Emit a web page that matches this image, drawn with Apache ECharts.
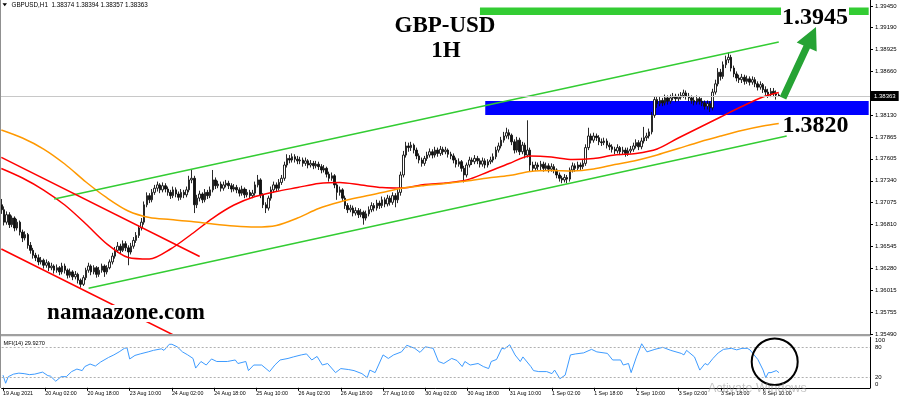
<!DOCTYPE html>
<html><head><meta charset="utf-8">
<script src="https://cdn.jsdelivr.net/npm/echarts@6/dist/echarts.min.js"></script>
<style>html,body{margin:0;padding:0;background:#fff;}#c{width:900px;height:400px;}</style>
</head><body><div id="c"></div>
<script>
// ---------------- DATA ----------------
const symbolName = 'GBPUSD,H1';
const firstOpen = 1.3705;
const closes = [
1.3699,1.3684,1.3693,1.3681,1.3689,1.3677,1.3684,1.3672,1.3665,1.3669,
1.3656,1.3650,1.3644,1.3641,1.3636,1.3638,1.3632,1.3635,1.3629,1.3631,
1.3626,1.3629,1.3624,1.3631,1.3626,1.3620,1.3624,1.3618,1.3621,1.3614,
1.3609,1.3617,1.3626,1.3631,1.3624,1.3629,1.3621,1.3626,1.3631,1.3624,
1.3629,1.3636,1.3643,1.3650,1.3655,1.3650,1.3658,1.3653,1.3648,1.3655,
1.3662,1.3668,1.3677,1.3684,1.3705,1.3716,1.3711,1.3720,1.3725,1.3729,
1.3723,1.3728,1.3724,1.3720,1.3716,1.3723,1.3718,1.3714,1.3720,1.3717,
1.3723,1.3735,1.3737,1.3705,1.3713,1.3718,1.3711,1.3720,1.3716,1.3723,
1.3735,1.3728,1.3730,1.3725,1.3729,1.3731,1.3728,1.3724,1.3726,1.3723,
1.3719,1.3724,1.3717,1.3720,1.3716,1.3719,1.3729,1.3735,1.3717,1.3705,
1.3701,1.3713,1.3723,1.3729,1.3725,1.3732,1.3737,1.3753,1.3761,1.3759,
1.3763,1.3760,1.3758,1.3759,1.3755,1.3758,1.3753,1.3755,1.3752,1.3754,
1.3751,1.3747,1.3749,1.3742,1.3737,1.3740,1.3729,1.3720,1.3723,1.3713,
1.3704,1.3699,1.3701,1.3695,1.3698,1.3693,1.3696,1.3689,1.3694,1.3699,
1.3704,1.3701,1.3707,1.3704,1.3711,1.3706,1.3713,1.3708,1.3716,1.3711,
1.3720,1.3741,1.3765,1.3776,1.3774,1.3777,1.3771,1.3764,1.3759,1.3755,
1.3761,1.3765,1.3769,1.3765,1.3771,1.3767,1.3772,1.3769,1.3771,1.3766,
1.3764,1.3759,1.3754,1.3757,1.3749,1.3741,1.3753,1.3759,1.3757,1.3761,
1.3758,1.3754,1.3758,1.3753,1.3757,1.3759,1.3763,1.3771,1.3776,1.3783,
1.3788,1.3792,1.3789,1.3781,1.3771,1.3783,1.3769,1.3777,1.3765,1.3771,
1.3753,1.3749,1.3753,1.3751,1.3754,1.3749,1.3752,1.3748,1.3751,1.3747,
1.3741,1.3737,1.3735,1.3738,1.3736,1.3747,1.3752,1.3749,1.3753,1.3751,
1.3755,1.3774,1.3788,1.3783,1.3788,1.3786,1.3781,1.3780,1.3782,1.3777,
1.3775,1.3772,1.3770,1.3774,1.3769,1.3771,1.3767,1.3770,1.3772,1.3776,
1.3780,1.3775,1.3782,1.3786,1.3788,1.3793,1.3813,1.3832,1.3827,1.3831,
1.3828,1.3834,1.3830,1.3834,1.3836,1.3833,1.3835,1.3837,1.3840,1.3836,
1.3834,1.3831,1.3829,1.3833,1.3830,1.3828,1.3824,1.3827,1.3822,1.3841,
1.3851,1.3865,1.3860,1.3874,1.3880,1.3883,1.3870,1.3863,1.3858,1.3856,
1.3859,1.3854,1.3857,1.3853,1.3856,1.3851,1.3847,1.3850,1.3844,1.3841,
1.3838,1.3842,1.3839,1.38374,1.38363];
const highs = [
1.3712,1.3703,1.3697,1.3696,1.3692,1.3691,1.3688,1.3686,1.3675,1.3673,
1.3671,1.3660,1.3653,1.3647,1.3645,1.3642,1.3640,1.3639,1.3637,1.3635,
1.3633,1.3633,1.3631,1.3635,1.3634,1.3628,1.3628,1.3626,1.3625,1.3623,
1.3616,1.3620,1.3629,1.3635,1.3633,1.3632,1.3631,1.3630,1.3634,1.3633,
1.3632,1.3639,1.3647,1.3654,1.3660,1.3658,1.3662,1.3661,1.3656,1.3659,
1.3666,1.3672,1.3680,1.3689,1.3709,1.3720,1.3719,1.3724,1.3729,1.3733,
1.3731,1.3732,1.3731,1.3727,1.3723,1.3727,1.3726,1.3721,1.3724,1.3723,
1.3727,1.3740,1.3747,1.3740,1.3717,1.3722,1.3720,1.3724,1.3723,1.3727,
1.3747,1.3738,1.3734,1.3733,1.3733,1.3735,1.3734,1.3731,1.3730,1.3729,
1.3726,1.3728,1.3726,1.3724,1.3723,1.3723,1.3733,1.3741,1.3737,1.3719,
1.3708,1.3716,1.3727,1.3733,1.3732,1.3736,1.3741,1.3757,1.3766,1.3765,
1.3767,1.3766,1.3764,1.3763,1.3762,1.3762,1.3760,1.3759,1.3758,1.3758,
1.3757,1.3754,1.3753,1.3751,1.3745,1.3744,1.3742,1.3731,1.3727,1.3725,
1.3716,1.3707,1.3705,1.3704,1.3702,1.3701,1.3700,1.3698,1.3698,1.3703,
1.3708,1.3707,1.3711,1.3710,1.3715,1.3714,1.3717,1.3716,1.3720,1.3719,
1.3724,1.3745,1.3770,1.3781,1.3780,1.3781,1.3779,1.3774,1.3767,1.3762,
1.3764,1.3769,1.3773,1.3772,1.3775,1.3774,1.3776,1.3775,1.3775,1.3773,
1.3769,1.3767,1.3762,1.3761,1.3759,1.3752,1.3756,1.3763,1.3762,1.3765,
1.3764,1.3761,1.3762,1.3761,1.3760,1.3763,1.3767,1.3775,1.3780,1.3787,
1.3793,1.3798,1.3796,1.3791,1.3784,1.3787,1.3786,1.3781,1.3780,1.3807,
1.3774,1.3757,1.3757,1.3756,1.3758,1.3757,1.3756,1.3755,1.3755,1.3754,
1.3749,1.3744,1.3740,1.3742,1.3741,1.3750,1.3756,1.3755,1.3757,1.3756,
1.3759,1.3778,1.3798,1.3791,1.3792,1.3791,1.3789,1.3785,1.3786,1.3785,
1.3780,1.3778,1.3775,1.3778,1.3776,1.3775,1.3774,1.3774,1.3776,1.3780,
1.3784,1.3783,1.3786,1.3799,1.3792,1.3797,1.3817,1.3836,1.3835,1.3835,
1.3834,1.3838,1.3837,1.3838,1.3840,1.3839,1.3839,1.3841,1.3844,1.3843,
1.3840,1.3837,1.3835,1.3837,1.3836,1.3834,1.3831,1.3831,1.3830,1.3845,
1.3856,1.3870,1.3869,1.3878,1.3885,1.3889,1.3886,1.3873,1.3866,1.3862,
1.3863,1.3862,1.3861,1.3860,1.3860,1.3859,1.3854,1.3854,1.3852,1.3848,
1.3845,1.3846,1.3846,1.3843,1.38394];
const lows = [
1.3694,1.3680,1.3681,1.3677,1.3678,1.3673,1.3674,1.3668,1.3660,1.3662,
1.3652,1.3646,1.3640,1.3637,1.3632,1.3633,1.3628,1.3629,1.3625,1.3626,
1.3622,1.3623,1.3620,1.3621,1.3622,1.3616,1.3617,1.3614,1.3615,1.3610,
1.3605,1.3607,1.3614,1.3623,1.3620,1.3621,1.3617,1.3618,1.3623,1.3618,
1.3621,1.3627,1.3633,1.3640,1.3647,1.3646,1.3648,1.3649,1.3632,1.3645,
1.3652,1.3659,1.3665,1.3674,1.3681,1.3702,1.3707,1.3708,1.3717,1.3721,
1.3719,1.3720,1.3720,1.3716,1.3712,1.3713,1.3714,1.3710,1.3711,1.3713,
1.3714,1.3720,1.3731,1.3695,1.3701,1.3709,1.3707,1.3708,1.3712,1.3713,
1.3720,1.3724,1.3725,1.3721,1.3722,1.3726,1.3724,1.3720,1.3721,1.3719,
1.3715,1.3716,1.3713,1.3714,1.3712,1.3713,1.3716,1.3726,1.3713,1.3701,
1.3695,1.3698,1.3710,1.3720,1.3721,1.3722,1.3729,1.3734,1.3750,1.3755,
1.3756,1.3756,1.3754,1.3754,1.3751,1.3752,1.3749,1.3750,1.3748,1.3749,
1.3747,1.3743,1.3744,1.3738,1.3733,1.3734,1.3725,1.3711,1.3716,1.3709,
1.3700,1.3695,1.3696,1.3691,1.3692,1.3689,1.3690,1.3681,1.3686,1.3691,
1.3696,1.3697,1.3698,1.3700,1.3701,1.3702,1.3703,1.3704,1.3705,1.3702,
1.3707,1.3716,1.3738,1.3762,1.3769,1.3770,1.3767,1.3760,1.3755,1.3751,
1.3752,1.3758,1.3762,1.3761,1.3762,1.3763,1.3764,1.3765,1.3766,1.3762,
1.3760,1.3755,1.3750,1.3751,1.3745,1.3732,1.3738,1.3750,1.3753,1.3754,
1.3754,1.3750,1.3751,1.3749,1.3750,1.3754,1.3756,1.3760,1.3768,1.3773,
1.3780,1.3785,1.3784,1.3777,1.3767,1.3768,1.3765,1.3766,1.3761,1.3762,
1.3745,1.3745,1.3746,1.3747,1.3747,1.3745,1.3746,1.3744,1.3745,1.3743,
1.3737,1.3733,1.3731,1.3732,1.3731,1.3733,1.3744,1.3745,1.3746,1.3747,
1.3748,1.3752,1.3771,1.3779,1.3780,1.3782,1.3777,1.3776,1.3777,1.3773,
1.3771,1.3768,1.3766,1.3767,1.3765,1.3766,1.3763,1.3764,1.3767,1.3769,
1.3773,1.3771,1.3772,1.3779,1.3782,1.3785,1.3790,1.3810,1.3822,1.3824,
1.3824,1.3825,1.3826,1.3827,1.3831,1.3829,1.3830,1.3832,1.3834,1.3832,
1.3830,1.3827,1.3825,1.3826,1.3826,1.3824,1.3820,1.3820,1.3817,1.3819,
1.3838,1.3848,1.3855,1.3857,1.3870,1.3876,1.3866,1.3859,1.3854,1.3852,
1.3852,1.3850,1.3851,1.3849,1.3850,1.3847,1.3843,1.3844,1.3840,1.3837,
1.3834,1.3835,1.3835,1.3832,1.38357];

// moving averages, read at these bar numbers
const maBars = [0,8,16,24,32,40,48,56,64,72,80,88,96,104,112,120,128,136,144,152,160,168,176,184,192,200,208,216,224,232,240,248,256,264,272,280,288,294];
const maRed = [1.37488,1.37373,1.37228,1.37047,1.36818,1.36576,1.36413,1.36395,1.36516,1.36697,1.36890,1.37047,1.37150,1.37210,1.37258,1.37307,1.37319,1.37289,1.37258,1.37252,1.37295,1.37313,1.37349,1.37446,1.37548,1.37639,1.37627,1.37596,1.37609,1.37651,1.37669,1.37723,1.37856,1.37983,1.38110,1.38236,1.38351,1.38405];
const maOrange = [1.37953,1.37856,1.37723,1.37542,1.37325,1.37132,1.36975,1.36896,1.36872,1.36848,1.36818,1.36794,1.36782,1.36800,1.36890,1.37005,1.37084,1.37144,1.37198,1.37252,1.37283,1.37307,1.37337,1.37373,1.37403,1.37452,1.37464,1.37458,1.37482,1.37536,1.37584,1.37651,1.37729,1.37808,1.37880,1.37947,1.38001,1.38031];

// MFI(14), read at these bar numbers
const mfiBars = [0,1,2,4,6,8,10,12,15,17,18,20,22,24,26,28,30,31,33,35,37,40,42,44,46,47,48,50,52,55,57,60,61,63,64,66,68,70,72,73,75,77,79,81,85,88,89,92,93,95,98,101,103,105,108,110,113,115,117,119,121,123,126,128,131,133,136,138,139,141,144,146,148,151,153,156,158,160,163,165,167,170,172,174,175,177,180,182,184,185,187,189,190,192,194,196,197,200,201,203,206,208,209,211,213,215,217,220,223,225,229,231,234,235,237,238,240,242,244,247,250,253,257,258,259,262,264,266,267,269,271,273,276,278,280,282,283,286,288,289,290,291,293,294];
const mfiValues = [25,9,22,27,29,28,26,27,31,24,23,13,22,22,32,37,34,42,47,43,51,60,65,71,78,79,57,64,67,71,74,77,74,86,86,81,71,65,58,39,52,45,57,52,52,55,48,52,34,45,45,32,45,55,58,61,65,67,55,62,45,48,30,38,36,34,28,20,35,30,65,58,65,71,84,78,70,81,78,52,48,58,54,42,52,45,48,42,38,52,56,78,77,85,65,52,61,42,34,32,32,28,35,18,25,65,67,69,76,71,68,55,55,45,48,30,61,87,71,76,80,74,68,65,74,61,35,48,45,58,69,76,78,75,78,78,75,56,35,20,30,30,34,29.927];
const mfiLevels = [80, 20];
const mfiTicks = [0, 20, 80, 100];

// drawn objects, in (bar, price)
const channelUpper = [[20, 1.37120], [294, 1.39015]];
const channelLower = [[33, 1.36043], [297, 1.37880]];
const downLineA = [[0, 1.37622], [75, 1.36426]];
const downLineB = [[0, 1.36516], [66, 1.35463]];
const targetZone = {fromBar: 181, top: 1.39431, bottom: 1.39341};
const supportZone = {fromBar: 183, top: 1.38303, bottom: 1.38134};
const targetText = '1.3945';
const supportText = '1.3820';

// axes
const priceMin = 1.35478, priceMax = 1.39522;
const priceTicks = [1.35490,1.35755,1.36015,1.36280,1.36545,1.36810,1.37075,1.37340,1.37605,1.37865,1.38130,1.38395,1.38660,1.38925,1.39190,1.39450];
const timeLabels = ['19 Aug 2021','20 Aug 02:00','20 Aug 18:00','23 Aug 10:00','24 Aug 02:00','24 Aug 18:00','25 Aug 10:00','26 Aug 02:00','26 Aug 18:00','27 Aug 10:00','30 Aug 02:00','30 Aug 18:00','31 Aug 10:00','1 Sep 02:00','1 Sep 18:00','2 Sep 10:00','3 Sep 02:00','3 Sep 18:00','6 Sep 10:00'];
const labelEvery = 16;
const shiftSlots = 34;

// ---------------- BUILD ----------------
const totalSlots = closes.length + shiftSlots;
const categories = [];
{
  let t = Date.UTC(2021, 7, 19, 10);
  while (categories.length < totalSlots) {
    const d = new Date(t);
    const wd = d.getUTCDay();
    if (wd !== 0 && wd !== 6) {
      categories.push(d.toISOString().slice(0, 13) + ':00');
    }
    t += 3600000;
  }
}
const candles = closes.map((c, i) => [i === 0 ? firstOpen : closes[i - 1], c, lows[i], highs[i]]);
const last = candles[candles.length - 1];
const lastClose = closes[closes.length - 1];
const maRedData = maBars.map((b, i) => [b, maRed[i]]);
const maOrangeData = maBars.map((b, i) => [b, maOrange[i]]);
const mfiData = mfiBars.map((b, i) => [b, mfiValues[i]]);
const lastSlot = totalSlots - 1;

const FONT = 'Liberation Sans';
const SERIF = 'Liberation Serif';
const isLabelSlot = (idx) => idx % labelEvery === 0 && idx / labelEvery < timeLabels.length;

const trend = (data, color) => ({
  type: 'line', xAxisIndex: 0, yAxisIndex: 0, data: data, symbol: 'none', silent: true, z: 4,
  lineStyle: {color: color, width: 1.5}
});

const chart = echarts.init(document.getElementById('c'), null, {renderer: 'canvas', width: 900, height: 400});
chart.setOption({
  animation: false,
  backgroundColor: '#ffffff',
  textStyle: {fontFamily: FONT},
  grid: [
    {left: 0, right: 30, top: 0, height: 335},
    {left: 0, right: 30, top: 337.2, height: 50.6}
  ],
  xAxis: [
    {type: 'category', gridIndex: 0, data: categories, boundaryGap: true,
      axisLine: {show: false}, axisTick: {show: false}, axisLabel: {show: false}, splitLine: {show: false}},
    {type: 'category', gridIndex: 1, data: categories, boundaryGap: true,
      axisLine: {show: true, onZero: false, lineStyle: {color: '#000', width: 1}},
      axisTick: {show: true, alignWithLabel: true, interval: isLabelSlot, length: 3, lineStyle: {color: '#000'}},
      axisLabel: {interval: isLabelSlot, formatter: (v, idx) => timeLabels[idx / labelEvery] || '',
        align: 'left', margin: 3, fontSize: 5.3, color: '#000', fontFamily: FONT},
      splitLine: {show: false}}
  ],
  yAxis: [
    {type: 'value', gridIndex: 0, position: 'right', min: priceMin, max: priceMax,
      axisLine: {show: true, onZero: false, lineStyle: {color: '#000', width: 1}},
      axisTick: {show: true, customValues: priceTicks, length: 3, lineStyle: {color: '#000'}},
      axisLabel: {customValues: priceTicks, formatter: v => v.toFixed(5), fontSize: 6, margin: 5, color: '#000', fontFamily: FONT,
        showMinLabel: true, showMaxLabel: true},
      splitLine: {show: false}},
    {type: 'value', gridIndex: 1, position: 'right', min: 0, max: 100,
      axisLine: {show: true, onZero: false, lineStyle: {color: '#000', width: 1}},
      axisTick: {show: false},
      axisLabel: {customValues: mfiTicks, fontSize: 6, margin: 5, color: '#000', fontFamily: FONT,
        showMinLabel: true, showMaxLabel: true, hideOverlap: false,
        formatter: v => v === 100 ? '{t|100}' : (v === 0 ? '{b|0}' : String(v)),
        rich: {t: {padding: [7, 0, 0, 0], fontSize: 6, fontFamily: FONT}, b: {padding: [0, 0, 7, 0], fontSize: 6, fontFamily: FONT}}},
      splitLine: {show: false}}
  ],
  series: [
    {type: 'line', name: 'zones', xAxisIndex: 0, yAxisIndex: 0, data: [], z: 1, silent: true,
      markArea: {silent: true, precision: 5, data: [
        [{xAxis: targetZone.fromBar, yAxis: targetZone.top, itemStyle: {color: '#33cc33', opacity: 1}}, {xAxis: lastSlot, yAxis: targetZone.bottom}],
        [{xAxis: supportZone.fromBar, yAxis: supportZone.top, itemStyle: {color: '#0000ff', opacity: 1}}, {xAxis: lastSlot, yAxis: supportZone.bottom}]
      ]},
      markLine: {silent: true, precision: 5, symbol: ['none', 'none'], data: [{yAxis: lastClose}],
        lineStyle: {color: '#c8c8c8', width: 1, type: 'solid'},
        label: {position: 'end', formatter: lastClose.toFixed(5), backgroundColor: '#000', color: '#fff',
          fontSize: 6, fontFamily: FONT, padding: [2, 3], distance: 1}}},
    {type: 'candlestick', name: 'GBPUSD', xAxisIndex: 0, yAxisIndex: 0, data: candles, barWidth: 2, z: 3, silent: true,
      itemStyle: {color: '#ffffff', color0: '#111111', borderColor: '#111111', borderColor0: '#111111', borderWidth: 0.9}},
    {type: 'line', name: 'MA red', xAxisIndex: 0, yAxisIndex: 0, data: maRedData, symbol: 'none', smooth: 0.3, z: 4, silent: true,
      lineStyle: {color: '#ff0000', width: 1.5}},
    {type: 'line', name: 'MA orange', xAxisIndex: 0, yAxisIndex: 0, data: maOrangeData, symbol: 'none', smooth: 0.3, z: 4, silent: true,
      lineStyle: {color: '#ff9900', width: 1.5}},
    trend(channelUpper, '#33cc33'),
    trend(channelLower, '#33cc33'),
    trend(downLineA, '#ff0000'),
    trend(downLineB, '#ff0000'),
    {type: 'line', name: 'MFI', xAxisIndex: 1, yAxisIndex: 1, data: mfiData, symbol: 'none', silent: true, z: 4,
      lineStyle: {color: '#3d9bff', width: 1},
      markLine: {silent: true, symbol: ['none', 'none'], label: {show: false},
        lineStyle: {color: '#b0b0b0', width: 1, type: [2, 2]},
        data: mfiLevels.map(v => ({yAxis: v}))}}
  ],
  graphic: [
    {type: 'rect', z: 50, silent: true, shape: {x: 0, y: 334, width: 870, height: 2.2}, style: {fill: '#a0a0a0'}},
    {type: 'rect', z: 50, silent: true, shape: {x: 0, y: 0, width: 1, height: 388}, style: {fill: '#909090'}},
    {type: 'polygon', z: 50, silent: true, shape: {points: [[2.5, 3.2], [7, 3.2], [4.75, 6.2]]}, style: {fill: '#000'}},
    {type: 'text', z: 50, silent: true, x: 11.5, y: 5,
      style: {text: symbolName + '  ' + last[0].toFixed(5) + ' ' + last[3].toFixed(5) + ' ' + last[2].toFixed(5) + ' ' + last[1].toFixed(5),
        fontSize: 6.3, fontFamily: FONT, fill: '#000', verticalAlign: 'middle'}},
    {type: 'text', z: 50, silent: true, x: 3.5, y: 343.5,
      style: {text: 'MFI(14) ' + mfiValues[mfiValues.length - 1].toFixed(4), fontSize: 5.6, fontFamily: FONT, fill: '#000', verticalAlign: 'middle'}},
    {type: 'text', z: 60, silent: true, x: 445, y: 26,
      style: {text: 'GBP-USD', fontSize: 23, fontWeight: 'bold', fontFamily: SERIF, fill: '#000', align: 'center', verticalAlign: 'middle'}},
    {type: 'text', z: 60, silent: true, x: 446, y: 51,
      style: {text: '1H', fontSize: 23, fontWeight: 'bold', fontFamily: SERIF, fill: '#000', align: 'center', verticalAlign: 'middle'}},
    {type: 'text', z: 60, silent: true, x: 815, y: 18,
      style: {text: targetText, fontSize: 24, fontWeight: 'bold', fontFamily: SERIF, fill: '#000', align: 'center', verticalAlign: 'middle',
        backgroundColor: '#fff', padding: [0, 1]}},
    {type: 'text', z: 60, silent: true, x: 815.5, y: 126,
      style: {text: supportText, fontSize: 24, fontWeight: 'bold', fontFamily: SERIF, fill: '#000', align: 'center', verticalAlign: 'middle'}},
    {type: 'text', z: 60, silent: true, x: 126, y: 313.5,
      style: {text: 'namaazone.com', fontSize: 23, fontWeight: 'bold', fontFamily: SERIF, fill: '#000', align: 'center', verticalAlign: 'middle',
        backgroundColor: '#fff', lineHeight: 17, padding: [0, 2]}},
    {type: 'polygon', z: 70, silent: true,
      shape: {points: [[779.8, 96.5], [803.5, 45.5], [796.7, 42.4], [816, 27], [816.7, 51.6], [809.9, 48.5], [786.2, 99.5]]},
      style: {fill: '#26a334'}},
    {type: 'ellipse', z: 70, silent: true, shape: {cx: 774.7, cy: 361.7, rx: 23, ry: 23.3}, style: {fill: 'none', stroke: '#000', lineWidth: 2}},
    {type: 'text', z: 80, silent: true, x: 708, y: 389,
      style: {text: 'Activate Windows', fontSize: 12.5, fontFamily: FONT, fill: 'rgba(150,150,150,0.55)', verticalAlign: 'middle'}}
  ]
});
</script>
</body></html>
